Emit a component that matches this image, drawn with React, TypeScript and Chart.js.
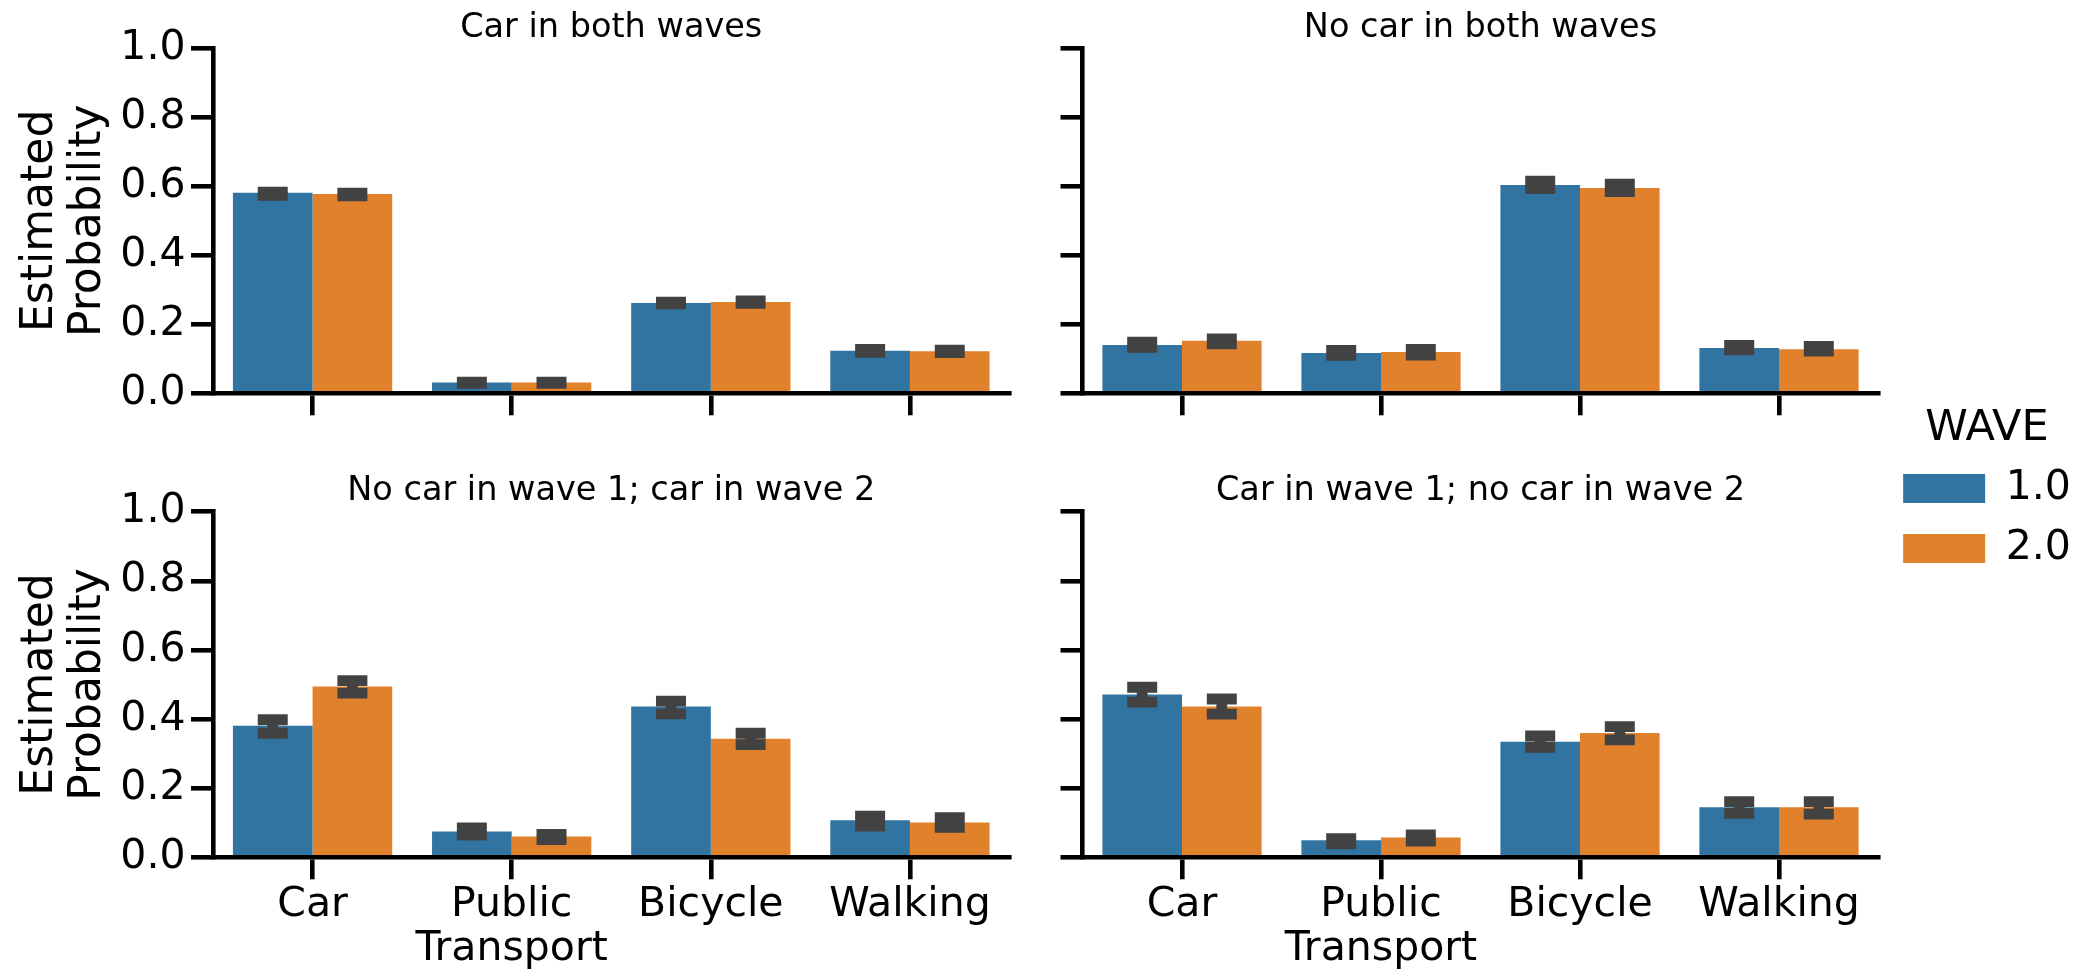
import React, { useEffect, useRef } from 'react';
import { Chart, registerables } from 'chart.js';

Chart.register(...registerables);

// ---------------- data ----------------
const categories = ['Car', 'Public Transport', 'Bicycle', 'Walking'];
const waveLabels = ['1.0', '2.0'];
const legendTitle = 'WAVE';
const yAxisTitle = ['Estimated', 'Probability'];
const yTickValues = [0, 0.2, 0.4, 0.6, 0.8, 1.0];
const panelTitles = [
  'Car in both waves',
  'No car in both waves',
  'No car in wave 1; car in wave 2',
  'Car in wave 1; no car in wave 2',
];

// Car in both waves
const carBothW1 = [0.581, 0.031, 0.262, 0.123];
const carBothW1Lo = [0.574, 0.029, 0.259, 0.119];
const carBothW1Hi = [0.583, 0.032, 0.264, 0.127];
const carBothW2 = [0.578, 0.031, 0.265, 0.122];
const carBothW2Lo = [0.572, 0.029, 0.261, 0.118];
const carBothW2Hi = [0.580, 0.032, 0.268, 0.125];

// No car in both waves
const noCarW1 = [0.140, 0.117, 0.604, 0.131];
const noCarW1Lo = [0.133, 0.110, 0.593, 0.126];
const noCarW1Hi = [0.148, 0.124, 0.615, 0.139];
const noCarW2 = [0.152, 0.120, 0.595, 0.128];
const noCarW2Lo = [0.143, 0.111, 0.585, 0.122];
const noCarW2Hi = [0.158, 0.127, 0.606, 0.136];

// No car in wave 1; car in wave 2
const gainCarW1 = [0.381, 0.075, 0.436, 0.107];
const gainCarW1Lo = [0.359, 0.064, 0.415, 0.090];
const gainCarW1Hi = [0.398, 0.085, 0.452, 0.119];
const gainCarW2 = [0.494, 0.060, 0.343, 0.101];
const gainCarW2Lo = [0.475, 0.051, 0.326, 0.087];
const gainCarW2Hi = [0.511, 0.066, 0.359, 0.115];

// Car in wave 1; no car in wave 2
const lostCarW1 = [0.471, 0.049, 0.334, 0.145];
const lostCarW1Lo = [0.449, 0.039, 0.318, 0.127];
const lostCarW1Hi = [0.492, 0.054, 0.351, 0.161];
const lostCarW2 = [0.436, 0.057, 0.360, 0.145];
const lostCarW2Lo = [0.414, 0.047, 0.340, 0.125];
const lostCarW2Hi = [0.458, 0.065, 0.378, 0.161];

// ---------------- styles ----------------
const FONT = 'DejaVu Sans';
const BLUE = '#3274a1';
const ORANGE = '#e1812c';
const ERR = '#424242';
const AXIS_LW = 4.6;
const TICK_LEN = 22;
const ERR_LW = 10.8;
const CAP_HALF = 15;
const TICK_FONT = 41;

Chart.defaults.font.family = FONT;
Chart.defaults.color = '#000';

const errorBarPlugin = {
  id: 'errorBars',
  afterDatasetsDraw(chart: any) {
    const ctx = chart.ctx;
    const yScale = chart.scales.y;
    chart.data.datasets.forEach((ds: any, di: number) => {
      if (!ds.ciLow || !ds.ciHigh) return;
      const meta = chart.getDatasetMeta(di);
      meta.data.forEach((bar: any, i: number) => {
        const x = bar.x;
        const yHi = yScale.getPixelForValue(ds.ciHigh[i]);
        const yLo = yScale.getPixelForValue(ds.ciLow[i]);
        ctx.save();
        ctx.strokeStyle = ERR;
        ctx.lineWidth = ERR_LW;
        ctx.lineCap = 'butt';
        ctx.beginPath();
        ctx.moveTo(x, yHi - ERR_LW / 2);
        ctx.lineTo(x, yLo + ERR_LW / 2);
        ctx.moveTo(x - CAP_HALF, yHi);
        ctx.lineTo(x + CAP_HALF, yHi);
        ctx.moveTo(x - CAP_HALF, yLo);
        ctx.lineTo(x + CAP_HALF, yLo);
        ctx.stroke();
        ctx.restore();
      });
    });
  },
};

type Layout = {
  left: number;
  top: number;
  width: number;
  height: number;
  yAxisW: number;
  xAxisH: number;
  padRight: number;
  titlePadTop: number;
  titlePadBottom: number;
  showY: boolean;
  showX: boolean;
};

type PanelData = {
  title: string;
  w1: number[];
  w1Lo: number[];
  w1Hi: number[];
  w2: number[];
  w2Lo: number[];
  w2Hi: number[];
};

const panels: { data: PanelData; layout: Layout }[] = [
  {
    data: { title: panelTitles[0], w1: carBothW1, w1Lo: carBothW1Lo, w1Hi: carBothW1Hi, w2: carBothW2, w2Lo: carBothW2Lo, w2Hi: carBothW2Hi },
    layout: { left: 0, top: 0, width: 1040, height: 440, yAxisW: 213, xAxisH: 46.7, padRight: 30.5, titlePadTop: 8, titlePadBottom: 0.1, showY: true, showX: false },
  },
  {
    data: { title: panelTitles[1], w1: noCarW1, w1Lo: noCarW1Lo, w1Hi: noCarW1Hi, w2: noCarW2, w2Lo: noCarW2Lo, w2Hi: noCarW2Hi },
    layout: { left: 1040, top: 0, width: 880, height: 440, yAxisW: 42.5, xAxisH: 46.7, padRight: 41.5, titlePadTop: 8, titlePadBottom: 0.1, showY: false, showX: false },
  },
  {
    data: { title: panelTitles[2], w1: gainCarW1, w1Lo: gainCarW1Lo, w1Hi: gainCarW1Hi, w2: gainCarW2, w2Lo: gainCarW2Lo, w2Hi: gainCarW2Hi },
    layout: { left: 0, top: 440, width: 1040, height: 530, yAxisW: 213, xAxisH: 112.7, padRight: 30.5, titlePadTop: 31.1, titlePadBottom: 0.4, showY: true, showX: true },
  },
  {
    data: { title: panelTitles[3], w1: lostCarW1, w1Lo: lostCarW1Lo, w1Hi: lostCarW1Hi, w2: lostCarW2, w2Lo: lostCarW2Lo, w2Hi: lostCarW2Hi },
    layout: { left: 1040, top: 440, width: 880, height: 530, yAxisW: 42.5, xAxisH: 112.7, padRight: 41.5, titlePadTop: 31.1, titlePadBottom: 0.4, showY: false, showX: true },
  },
];

function Panel({ data, layout }: { data: PanelData; layout: Layout }) {
  const ref = useRef<HTMLCanvasElement | null>(null);
  useEffect(() => {
    if (!ref.current) return;
    const chart = new Chart(ref.current, {
      type: 'bar',
      data: {
        labels: categories,
        datasets: [
          { label: waveLabels[0], data: data.w1, backgroundColor: BLUE, borderWidth: 0, ciLow: data.w1Lo, ciHigh: data.w1Hi } as any,
          { label: waveLabels[1], data: data.w2, backgroundColor: ORANGE, borderWidth: 0, ciLow: data.w2Lo, ciHigh: data.w2Hi } as any,
        ],
      },
      options: {
        responsive: false,
        animation: false,
        events: [],
        layout: { padding: { left: 0, top: 0, right: layout.padRight, bottom: 0 } },
        datasets: { bar: { categoryPercentage: 0.8, barPercentage: 1.0 } },
        plugins: {
          legend: { display: false },
          tooltip: { enabled: false },
          title: {
            display: true,
            text: data.title,
            fullSize: false,
            color: '#000',
            font: { family: FONT, size: 33.5, weight: 'normal', lineHeight: 1.2 },
            padding: { top: layout.titlePadTop, bottom: layout.titlePadBottom },
          },
        },
        scales: {
          x: {
            type: 'category',
            offset: true,
            z: 1,
            grid: {
              display: true,
              drawOnChartArea: false,
              offset: false,
              drawTicks: true,
              tickLength: TICK_LEN,
              tickWidth: AXIS_LW,
              tickColor: '#000',
              lineWidth: AXIS_LW,
              color: '#000',
            },
            border: { display: true, width: AXIS_LW, color: '#000' },
            ticks: {
              display: layout.showX,
              autoSkip: false,
              maxRotation: 0,
              minRotation: 0,
              padding: 3.6,
              color: '#000',
              font: { family: FONT, size: TICK_FONT, lineHeight: 1.083 },
              callback: function (this: any, value: any) {
                const lbl = this.getLabelForValue(value) as string;
                return lbl.includes(' ') ? lbl.split(' ') : lbl;
              },
            },
            afterFit: (s: any) => {
              s.height = layout.xAxisH;
            },
          },
          y: {
            type: 'linear',
            min: yTickValues[0],
            max: yTickValues[yTickValues.length - 1],
            z: 1,
            afterBuildTicks: (s: any) => {
              s.ticks = yTickValues.map((v) => ({ value: v }));
            },
            grid: {
              display: true,
              drawOnChartArea: false,
              drawTicks: true,
              tickLength: TICK_LEN,
              tickWidth: AXIS_LW,
              tickColor: '#000',
              lineWidth: AXIS_LW,
              color: '#000',
            },
            border: { display: true, width: AXIS_LW, color: '#000' },
            ticks: {
              display: layout.showY,
              padding: 5.5,
              color: '#000',
              font: { family: FONT, size: TICK_FONT, lineHeight: 1.2 },
              callback: (v: any) => Number(v).toFixed(1),
            },
            title: {
              display: layout.showY,
              text: yAxisTitle,
              color: '#000',
              font: { family: FONT, size: 44, lineHeight: 1.1 },
              padding: { top: 16, bottom: 0 },
            },
            afterFit: (s: any) => {
              s.width = layout.yAxisW;
            },
          },
        },
      } as any,
      plugins: [errorBarPlugin],
    });
    return () => chart.destroy();
  }, [data, layout]);
  return (
    <canvas
      ref={ref}
      width={layout.width}
      height={layout.height}
      style={{ position: 'absolute', left: layout.left, top: layout.top, width: layout.width, height: layout.height }}
    />
  );
}

function WaveLegend() {
  const ref = useRef<HTMLCanvasElement | null>(null);
  useEffect(() => {
    if (!ref.current) return;
    const chart = new Chart(ref.current, {
      type: 'bar',
      data: {
        labels: [],
        datasets: [
          { label: waveLabels[0], data: [], backgroundColor: BLUE, borderWidth: 0 },
          { label: waveLabels[1], data: [], backgroundColor: ORANGE, borderWidth: 0 },
        ],
      },
      options: {
        responsive: false,
        animation: false,
        events: [],
        layout: { padding: 0 },
        scales: { x: { display: false }, y: { display: false } },
        plugins: {
          tooltip: { enabled: false },
          title: { display: false },
          legend: {
            display: true,
            position: 'top',
            align: 'center',
            maxHeight: 240,
            title: {
              display: true,
              text: legendTitle,
              color: '#000',
              font: { family: FONT, size: 43, lineHeight: 0.9 },
              padding: { top: 7.5, bottom: 2.8 },
            },
            labels: {
              boxWidth: 82,
              boxHeight: 29,
              padding: 19,
              color: '#000',
              font: { family: FONT, size: TICK_FONT },
            },
          },
        },
      } as any,
    });
    return () => chart.destroy();
  }, []);
  return (
    <canvas
      ref={ref}
      width={200}
      height={240}
      style={{ position: 'absolute', left: 1887, top: 400, width: 200, height: 240 }}
    />
  );
}

export default function App() {
  return (
    <div style={{ position: 'absolute', left: 0, top: 0, width: 2100, height: 970, background: '#fff', overflow: 'hidden' }}>
      {panels.map((p, i) => (
        <Panel key={i} data={p.data} layout={p.layout} />
      ))}
      <WaveLegend />
    </div>
  );
}
